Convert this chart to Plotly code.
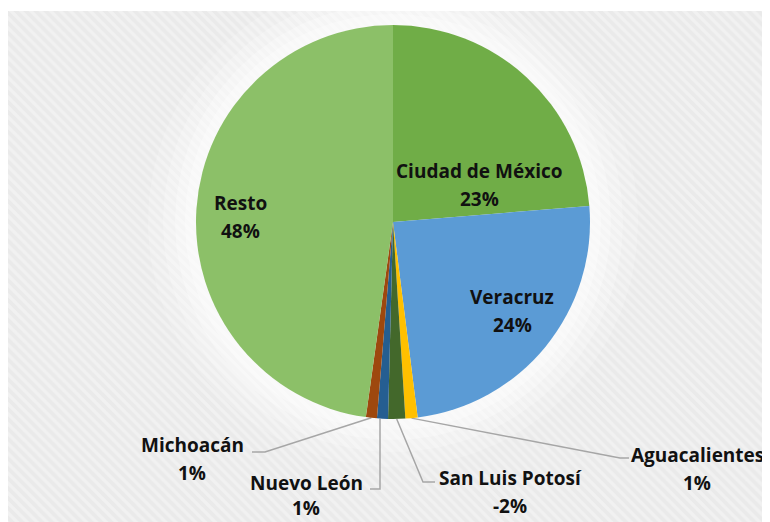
import numpy as np
import plotly.graph_objects as go

# ---- data ----
states = ["Ciudad de México", "Veracruz", "Aguacalientes", "San Luis Potosí",
          "Nuevo León", "Michoacán", "Resto"]
shares = [23.7, 24.3, 1.0, 1.4, 0.9, 0.9, 47.8]          # slice sizes (abs)
share_labels = ["23%", "24%", "1%", "-2%", "1%", "1%", "48%"]  # printed labels
colors = ["#70AD47", "#5B9BD5", "#FFC000", "#43682B", "#255E91", "#9E480E", "#8CC068"]

OFF = 8                      # page body margin
W, H = 770 - OFF, 522 - OFF  # figure size that fits the window


def px(x):
    return x - OFF


CX, CY, R = px(393), px(222), 197

fig = go.Figure()

# hatched background
fig.add_trace(go.Scatter(
    x=[px(8), W, W, px(8), px(8)], y=[px(11), px(11), H, H, px(11)], mode="lines", fill="toself",
    line=dict(width=0), fillcolor="#EDEDED",
    fillpattern=dict(shape="\\", bgcolor="#EAEAEA", fgcolor="#F8F8F8", size=7, solidity=0.45),
    hoverinfo="skip", showlegend=False))

# soft white glow around pie
t = np.linspace(0, 2 * np.pi, 200)
for rr, op in [(245, 0.18), (230, 0.22), (218, 0.28), (208, 0.35)]:
    fig.add_trace(go.Scatter(
        x=CX + rr * np.cos(t), y=CY + rr * np.sin(t), mode="lines", fill="toself",
        line=dict(width=0), fillcolor=f"rgba(255,255,255,{op})",
        hoverinfo="skip", showlegend=False))

fig.add_trace(go.Pie(
    labels=states, values=shares, sort=False, direction="clockwise", rotation=0,
    marker=dict(colors=colors, line=dict(width=0)),
    textinfo="none", hoverinfo="label+percent", showlegend=False,
    domain=dict(x=[(CX - R) / W, (CX + R) / W],
                y=[(H - CY - R) / H, (H - CY + R) / H])))

FONT = dict(family="Open Sans, Noto Sans, sans-serif", size=19, color="#111111")


def label(x, y, name, pct, gap=28):
    fig.add_annotation(x=px(x), y=px(y), text=f"<b>{name}</b>", showarrow=False,
                       xref="x", yref="y", font=FONT)
    fig.add_annotation(x=px(x), y=px(y + gap), text=f"<b>{pct}</b>", showarrow=False,
                       xref="x", yref="y", font=FONT)


# inside labels
inside_pos = {0: (479, 171), 1: (512, 297), 6: (240, 203)}
for i, (x, y) in inside_pos.items():
    label(x, y, states[i], share_labels[i])

# outside labels with leader lines
cum = np.cumsum([0] + shares)
total = sum(shares)
outside = {
    2: dict(text=(697, 455), elbow=(620, 458), end=(629, 458)),
    3: dict(text=(510, 478), elbow=(423, 482), end=(435, 482)),
    4: dict(text=(306, 483), elbow=(380, 489), end=(370, 489)),
    5: dict(text=(192, 445), elbow=(265, 452), end=(252, 452)),
}
for i, o in outside.items():
    mid = (cum[i] + cum[i + 1]) / 2 / total * 2 * np.pi
    sx, sy = CX + R * np.sin(mid), CY - R * np.cos(mid)
    ex, ey = px(o["elbow"][0]), px(o["elbow"][1])
    if i == 4:
        sx = ex
    fig.add_trace(go.Scatter(
        x=[sx, ex, px(o["end"][0])], y=[sy, ey, px(o["end"][1])], mode="lines",
        line=dict(color="#A6A6A6", width=1.5), hoverinfo="skip", showlegend=False))
    label(o["text"][0], o["text"][1], states[i], share_labels[i], gap=25 if i == 4 else 28)

fig.update_layout(
    width=W, height=H, margin=dict(l=0, r=0, t=0, b=0),
    paper_bgcolor="white", plot_bgcolor="white",
    xaxis=dict(range=[0, W], visible=False, fixedrange=True),
    yaxis=dict(range=[H, 0], visible=False, fixedrange=True),
)

fig.write_html("out.html")
